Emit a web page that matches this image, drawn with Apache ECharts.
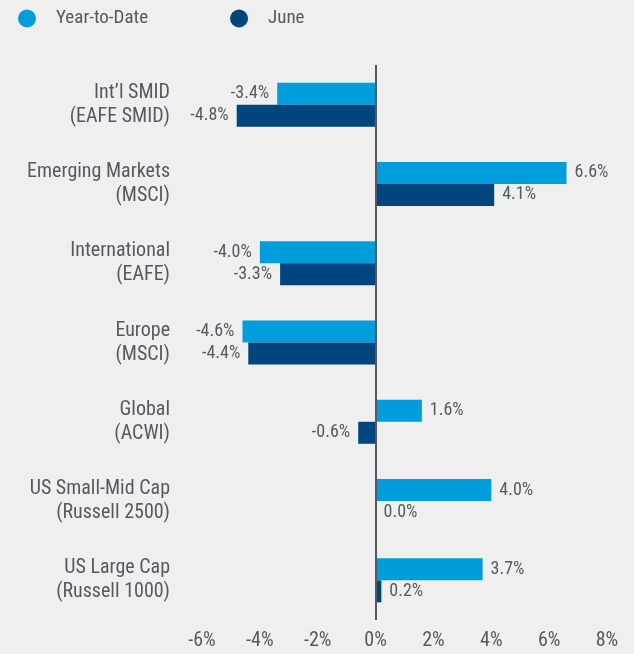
<!DOCTYPE html>
<html>
<head>
<meta charset="utf-8">
<script src="https://cdn.jsdelivr.net/npm/echarts@6/dist/echarts.min.js"></script>
<style>
  html, body { margin: 0; padding: 0; background: #efefef; }
  #main { width: 634px; height: 654px; }
</style>
</head>
<body>
<div id="main"></div>
<script>
const categories = [
  'Int\u2019l SMID\n(EAFE SMID)',
  'Emerging Markets\n(MSCI)',
  'International\n(EAFE)',
  'Europe\n(MSCI)',
  'Global\n(ACWI)',
  'US Small-Mid Cap\n(Russell 2500)',
  'US Large Cap\n(Russell 1000)'
];
const ytdValues = [-3.4, 6.6, -4.0, -4.6, 1.6, 4.0, 3.7];
const juneValues = [-4.8, 4.1, -3.3, -4.4, -0.6, 0.0, 0.2];
const xTicks = [-6, -4, -2, 0, 2, 4, 6, 8];

const FONT = '"Roboto Condensed", Roboto, sans-serif';
const TEXT = '#555a60';

// negative bars get their label on the left
function toItems(vals) {
  return vals.map(v => ({
    value: v,
    label: { position: v < 0 ? 'left' : 'right' }
  }));
}

const mainE1 = document.querySelector('#main');
let myChart = echarts.init(mainE1);

let option = {
  backgroundColor: '#efefef',
  textStyle: { fontFamily: FONT },
  legend: {
    left: 13,
    top: 4,
    icon: 'circle',
    itemWidth: 18,
    itemHeight: 18,
    itemGap: 82,
    formatter: '{n|{name}}',
    textStyle: {
      color: TEXT,
      fontSize: 19,
      fontFamily: FONT,
      rich: { n: { fontSize: 19, color: TEXT, fontFamily: FONT, padding: [0, 0, 0, 15] } }
    },
    data: ['Year-to-Date', 'June']
  },
  grid: { left: 202, right: 27, top: 65, bottom: 34, containLabel: false },
  xAxis: {
    type: 'value',
    min: xTicks[0],
    max: xTicks[xTicks.length - 1],
    interval: 2,
    axisLine: { show: false },
    axisTick: { show: false },
    splitLine: { show: false },
    axisLabel: {
      color: TEXT,
      fontSize: 20,
      fontFamily: FONT,
      margin: 11,
      formatter: v => v + '%'
    }
  },
  yAxis: {
    type: 'category',
    inverse: true,
    data: categories,
    axisLine: { show: false, onZero: false },
    axisTick: { show: false },
    axisLabel: {
      color: TEXT,
      fontSize: 20,
      fontFamily: FONT,
      lineHeight: 24,
      margin: 32,
      align: 'right'
    }
  },
  series: [
    {
      name: 'Year-to-Date',
      type: 'bar',
      data: toItems(ytdValues),
      barWidth: 22,
      barGap: '0%',
      itemStyle: { color: '#009ddc' },
      label: {
        show: true,
        color: TEXT,
        fontSize: 18,
        fontFamily: FONT,
        distance: 8,
        formatter: p => p.value.toFixed(1) + '%'
      },
      markLine: {
        silent: true,
        symbol: 'none',
        label: { show: false },
        lineStyle: { color: '#555a60', width: 2, type: 'solid' },
        data: [{ xAxis: 0 }]
      }
    },
    {
      name: 'June',
      type: 'bar',
      data: toItems(juneValues),
      barWidth: 22,
      barGap: '0%',
      itemStyle: { color: '#00457e' },
      label: {
        show: true,
        color: TEXT,
        fontSize: 18,
        fontFamily: FONT,
        distance: 8,
        formatter: p => p.value.toFixed(1) + '%'
      }
    }
  ]
};

myChart.setOption(option);
</script>
</body>
</html>
